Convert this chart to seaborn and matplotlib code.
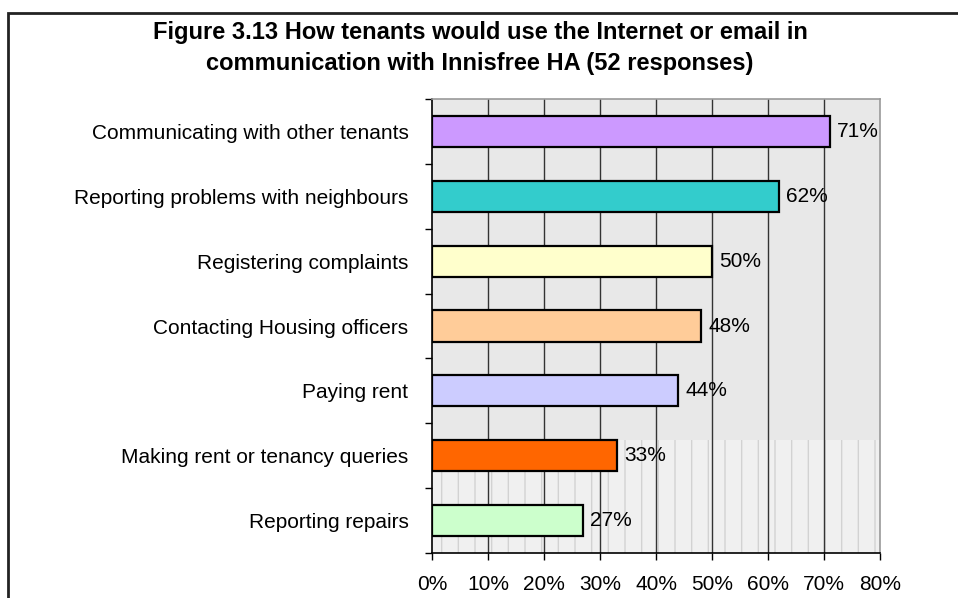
import matplotlib
matplotlib.use("Agg")
import matplotlib.pyplot as plt
import seaborn as sns
import pandas as pd
from matplotlib.patches import Rectangle
from matplotlib.ticker import FixedLocator

categories = [
    "Communicating with other tenants",
    "Reporting problems with neighbours",
    "Registering complaints",
    "Contacting Housing officers",
    "Paying rent",
    "Making rent or tenancy queries",
    "Reporting repairs",
]
values = [71, 62, 50, 48, 44, 33, 27]
bar_colors = ["#CC99FF", "#33CCCC", "#FFFFCC", "#FFCC99", "#CCCCFF", "#FF6600", "#CCFFCC"]
x_ticks = [0, 10, 20, 30, 40, 50, 60, 70, 80]

df = pd.DataFrame({"category": categories, "value": values})

sns.set_theme(style="white")
plt.rcParams["font.family"] = ["Liberation Sans", "DejaVu Sans"]

W, H = 958, 598
fig = plt.figure(figsize=(W / 100, H / 100), dpi=100)
ax = fig.add_axes([432 / W, 1 - 553 / H, (880 - 432) / W, (553 - 99) / H])

# stippled plot-area fill: denser upper part, lighter striped lower part
ax.set_facecolor("#e8e8e8")
ax.axhspan(4.76, 6.5, facecolor="#f0f0f0", edgecolor="#d2d2d2", hatch="|", lw=0, zorder=0)

sns.barplot(
    data=df, x="value", y="category", hue="category",
    palette=bar_colors, saturation=1, orient="h", width=0.48,
    edgecolor="black", linewidth=1.6, legend=False, ax=ax, zorder=3,
)

ax.set_xlim(0, 80)
ax.set_ylim(len(categories) - 0.5, -0.5)
ax.xaxis.set_major_locator(FixedLocator(x_ticks))
ax.set_xticklabels([f"{t}%" for t in x_ticks])
ax.set_xlabel("")
ax.set_ylabel("")

# vertical gridlines
for t in x_ticks[1:-1]:
    ax.axvline(t, color="#333333", lw=1.0, zorder=1)

# category separators as tick marks
ax.yaxis.set_major_locator(FixedLocator(range(len(categories))))
ax.set_yticklabels(categories)
ax.yaxis.set_minor_locator(FixedLocator([i - 0.5 for i in range(len(categories) + 1)]))
ax.tick_params(axis="y", which="major", length=0, pad=17, labelsize=15, labelcolor="black")
ax.tick_params(axis="y", which="minor", length=5, width=1, color="black", left=True)
ax.tick_params(axis="x", which="major", length=5, width=1, color="black", bottom=True,
               direction="out", pad=11, labelsize=15, labelcolor="black")

for side in ["left", "bottom"]:
    ax.spines[side].set_color("black")
    ax.spines[side].set_linewidth(1.2)
for side in ["top", "right"]:
    ax.spines[side].set_color("#999999")
    ax.spines[side].set_linewidth(1.2)

# value labels
for i, v in enumerate(values):
    ax.text(v + 1.3, i, f"{v}%", va="center", ha="left", fontsize=15, color="black", zorder=4)

# title
fig.text(480 / W, 1 - 48 / H,
         "Figure 3.13 How tenants would use the Internet or email in\n"
         "communication with Innisfree HA (52 responses)",
         ha="center", va="center", fontsize=17, fontweight="bold", color="black",
         linespacing=1.42)

# outer chart frame
fig.patches.append(Rectangle((8 / W, -0.1), 1.2, 1 - 13 / H + 0.1,
                             transform=fig.transFigure, fill=False,
                             edgecolor="#222222", lw=2, zorder=10))

fig.savefig("out.png", dpi=100)
